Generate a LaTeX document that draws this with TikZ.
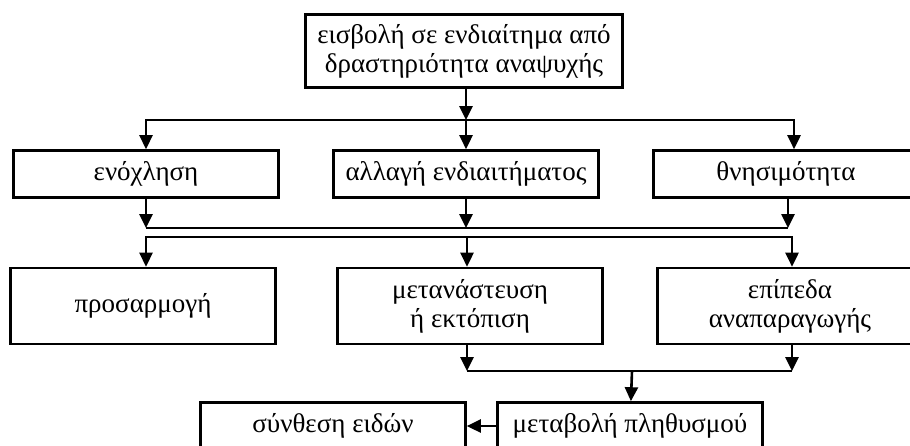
\documentclass[tikz,border=0pt]{standalone}
\usepackage{fontspec}
\setmainfont{Liberation Serif}
\usetikzlibrary{arrows.meta,positioning}

\begin{document}
\begin{tikzpicture}[x=1pt,y=-1pt,node distance=320pt,on grid,line width=2.6pt,
   box/.style={draw,minimum width=265pt,minimum height=47pt,inner sep=0pt,font=\fontsize{27}{29}\selectfont},
   tallbox/.style={box,minimum height=76pt,align=center},
   arr/.style={-{Triangle[length=14pt,width=13pt]}}]
   \useasboundingbox (0,0) rectangle (910,445);
   \node[box,align=center,minimum width=317pt,minimum height=73pt] (inv) at (464,51) {εισβολή σε ενδιαίτημα από\\δραστηριότητα αναψυχής};
   \node[box] (allagi) at (466,174) {αλλαγή ενδιαιτήματος};
   \node[box] (enox) [left=of allagi] {ενόχληση};
   \node[box] (thnis) [right=of allagi] {θνησιμότητα};
   \node[tallbox] (metan) at (470,306) {μετανάστευση\\ή εκτόπιση};
   \node[tallbox] (pros) [left=327pt of metan] {προσαρμογή};
   \node[tallbox] (epip) [right=of metan] {επίπεδα\\αναπαραγωγής};
   \node[box] (metav) [below right=120pt and 160pt of metan] {μεταβολή πληθυσμού};
   \node[box] (synth) [left=297pt of metav] {σύνθεση ειδών};
   \coordinate (s1) at (466,120);
   \coordinate (j1) at (466,228);
   \coordinate (s2) at (467,237);
   \coordinate (j2) at (632,371);
   \draw[arr] (inv.south -| s1) -- (s1);
   \draw[arr] (s1) -- (allagi);
   \draw[arr] (s1) -| (enox);
   \draw[arr] (s1) -| ([xshift=8pt]thnis.north);
   \draw[arr] (enox) -- (enox |- j1);
   \draw[arr] (allagi) -- (j1);
   \draw[arr] ([xshift=2pt]thnis.south) -- ([xshift=2pt]thnis.south |- j1);
   \draw (enox |- j1) -- ([xshift=2pt]thnis.south |- j1);
   \draw[arr] (s2) -| ([xshift=3pt]pros.north);
   \draw[arr] (s2) -- (s2 |- metan.north);
   \draw[arr] (s2) -| ([xshift=2pt]epip.north);
   \draw[arr] (metan.south -| s2) -- (s2 |- j2);
   \draw[arr] ([xshift=2pt]epip.south) -- ([xshift=2pt]epip.south |- j2);
   \draw (s2 |- j2) -- ([xshift=2pt]epip.south |- j2);
   \draw[arr] (j2) -- (metav);
   \draw[arr] (metav) -- (synth);
\end{tikzpicture}
\end{document}
